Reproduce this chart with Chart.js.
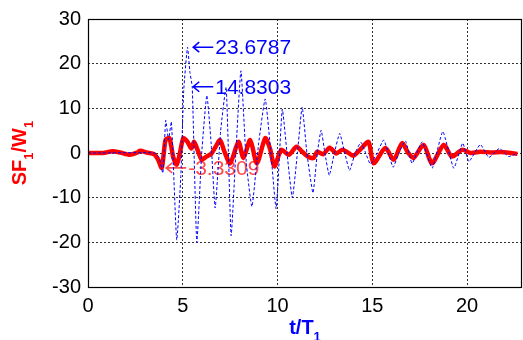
<!DOCTYPE html>
<html>
<head>
<meta charset="utf-8">
<script src="https://cdn.jsdelivr.net/npm/chart.js@4/dist/chart.umd.min.js"></script>
<style>
  html, body { margin: 0; padding: 0; background: #fff; }
  #wrap { width: 523px; height: 340px; }
</style>
</head>
<body>
<div id="wrap"><canvas id="c" width="523" height="340"></canvas></div>
<script>
// blue dotted series (t/T1, value)
const blueT = [0, 3.5, 3.75, 3.95, 4.1, 4.25, 4.4, 4.68, 4.9, 5.05, 5.25, 5.38, 5.5, 5.74, 6.0, 6.27, 6.5, 6.71, 7.0, 7.29, 7.55, 7.8, 8.07, 8.35, 8.65, 9.0, 9.35, 9.65, 9.93, 10.25, 10.5, 10.78, 11.05, 11.3, 11.55, 11.87, 12.1, 12.3, 12.5, 12.73, 13.0, 13.28, 13.55, 13.8, 14.1, 14.4, 14.65, 14.9, 15.25, 15.6, 15.85, 16.1, 16.4, 16.75, 17.1, 17.63, 18.16, 18.72, 19.3, 19.77, 20.1, 20.7, 21.15, 21.7, 22.2, 22.66];
const blueV = [0, 0, -1, -4.5, 7.3, 3, 7, -19.5, -5, 14, 23.68, 18, 14.83, -20, 0, 12.9, 2, -12.3, 5, 14.7, -18.5, 0, 18.4, -2, -12, 2, 12.1, 0, -12.5, 9.8, 0, -10, 0, 10.3, 0, -8.9, 0, 5.1, 0, -5, 0, 4.4, 0, -3.9, 0, 2.4, 0, -2.5, 0, 2.9, 0, -3.2, 0, 2.7, -2.3, 2.5, -3.4, 4.8, -3.4, 2.2, -1.9, 1.9, -1, 1, -0.8, 0];

// red thick series
const redT = [0, 0.8, 1.3, 1.7, 2.2, 2.6, 2.75, 3.1, 3.5, 3.7, 3.89, 4.0, 4.1, 4.3, 4.5, 4.68, 4.85, 5.03, 5.25, 5.45, 5.6, 5.8, 6.0, 6.25, 6.5, 6.75, 6.97, 7.2, 7.5, 7.94, 8.2, 8.56, 8.91, 9.35, 9.6, 9.84, 10.2, 10.6, 11.0, 11.3, 11.6, 11.9, 12.1, 12.4, 12.75, 13.1, 13.4, 13.65, 14.0, 14.35, 14.8, 15.07, 15.69, 16.13, 16.57, 16.9, 17.18, 17.71, 18.15, 18.77, 19.2, 19.74, 20.2, 20.7, 21.3, 21.8, 22.3, 22.66];
const redV = [0, 0, 0.4, 0.1, -0.4, 0.1, 0.5, 0.1, -0.3, -1.5, -3.33, 0, 3, 3.3, -1, -2.6, 0, 3.3, 2.5, 1.0, 2.5, 0.5, -1.5, -0.8, -0.2, 1.5, 2.9, 0.3, -2.3, 2.5, -1.1, 2.9, -2.3, 3.3, 1, -3, 0.7, -0.4, 1.4, 0.3, -0.8, -1.1, 0.3, -0.3, 1.2, -0.1, 0.7, 0.3, -0.6, 0.7, 2.5, -2.3, 1.1, -1.5, 2.2, 0, -1.1, 1.8, -2.3, 1.8, -0.8, 0.7, 0, 0.3, 0.1, 0.2, 0, -0.2];

const xTicks = [0, 5, 10, 15, 20];
const yTicks = [-30, -20, -10, 0, 10, 20, 30];

// text markers: [t, value, label, colour]
const notes = [
  [5.5, 23.6787, '23.6787', '#0000ff'],
  [5.5, 14.8303, '14.8303', '#0000ff'],
  [4.07, -3.3309, '-3.3309', '#ff4a4a']
];

const FONT = '"Liberation Sans", Arial, sans-serif';

function pts(t, v) {
  return t.map((x, i) => ({ x: x, y: v[i] }));
}

function drawNote(ctx, xs, ys, n) {
  const x0 = xs.getPixelForValue(n[0]);
  const y0 = ys.getPixelForValue(n[1]);
  ctx.strokeStyle = n[3];
  ctx.fillStyle = n[3];
  ctx.lineWidth = 1.6;
  ctx.setLineDash([]);
  ctx.beginPath();
  ctx.moveTo(x0 + 1, y0);
  ctx.lineTo(x0 + 21, y0);
  ctx.moveTo(x0 + 7, y0 - 5);
  ctx.lineTo(x0 + 1, y0);
  ctx.lineTo(x0 + 7, y0 + 5);
  ctx.stroke();
  ctx.font = '21px ' + FONT;
  ctx.textBaseline = 'middle';
  ctx.textAlign = 'left';
  ctx.fillText(n[2], x0 + 23, y0 + 1);
}

const overlay = {
  id: 'overlay',
  beforeDatasetsDraw(chart) {
    const ctx = chart.ctx;
    ctx.save();
    notes.filter(n => n[3] !== '#0000ff').forEach(n => drawNote(ctx, chart.scales.x, chart.scales.y, n));
    ctx.restore();
  },
  afterDatasetsDraw(chart) {
    const ctx = chart.ctx;
    const a = chart.chartArea;
    ctx.save();
    notes.filter(n => n[3] === '#0000ff').forEach(n => drawNote(ctx, chart.scales.x, chart.scales.y, n));
    // frame
    ctx.strokeStyle = '#000';
    ctx.lineWidth = 1.2;
    ctx.setLineDash([]);
    ctx.strokeRect(a.left + 0.5, a.top + 0.5, a.right - a.left - 1, a.bottom - a.top);
    ctx.restore();

    // axis titles with subscripts
    ctx.save();
    ctx.textBaseline = 'alphabetic';
    ctx.textAlign = 'left';
    ctx.fillStyle = '#0000ff';
    ctx.font = 'bold 20px ' + FONT;
    let w1 = ctx.measureText('t/T').width;
    ctx.font = 'bold 13px ' + FONT;
    let w2 = ctx.measureText('1').width;
    let cx = (a.left + a.right) / 2 - (w1 + w2) / 2;
    ctx.font = 'bold 20px ' + FONT;
    ctx.fillText('t/T', cx, 334);
    ctx.font = 'bold 13px ' + FONT;
    ctx.fillText('1', cx + w1, 341);

    ctx.translate(26, (a.top + a.bottom) / 2);
    ctx.rotate(-Math.PI / 2);
    ctx.fillStyle = '#ff0000';
    const parts = [['SF', 20, 0], ['1', 13, 7], ['/W', 20, 0], ['1', 13, 7]];
    let tot = 0;
    parts.forEach(p => { ctx.font = 'bold ' + p[1] + 'px ' + FONT; tot += ctx.measureText(p[0]).width; });
    let px = -tot / 2;
    parts.forEach(p => {
      ctx.font = 'bold ' + p[1] + 'px ' + FONT;
      ctx.fillText(p[0], px, p[2]);
      px += ctx.measureText(p[0]).width;
    });
    ctx.restore();
  }
};

new Chart(document.getElementById('c'), {
  type: 'line',
  data: {
    datasets: [
      {
        label: 'blue',
        data: pts(blueT, blueV),
        borderColor: '#0000ff',
        borderWidth: 1,
        borderDash: [3, 2],
        pointRadius: 0,
        tension: 0.15,
        fill: false
      },
      {
        label: 'red',
        data: pts(redT, redV),
        borderColor: '#ff0000',
        borderWidth: 4.5,
        pointRadius: 0,
        tension: 0.25,
        fill: false
      }
    ]
  },
  options: {
    responsive: false,
    animation: false,
    events: [],
    layout: { padding: { top: 16, right: 1, left: 0, bottom: 0 } },
    plugins: { legend: { display: false }, tooltip: { enabled: false } },
    scales: {
      x: {
        type: 'linear',
        min: 0,
        max: 22.9,
        afterFit(s) { s.height = 53; },
        afterBuildTicks(s) { s.ticks = xTicks.map(v => ({ value: v })); },
        grid: {
          color: '#333',
          lineWidth: 1,
          drawTicks: false
        },
        border: { display: false, dash: [2, 2] },
        ticks: {
          color: '#000',
          padding: 7,
          maxRotation: 0,
          autoSkip: false,
          font: { family: FONT, size: 20 }
        }
      },
      y: {
        min: -30,
        max: 30,
        afterFit(s) { s.width = 88; },
        afterBuildTicks(s) { s.ticks = yTicks.map(v => ({ value: v })); },
        grid: {
          color: '#333',
          lineWidth: 1,
          drawTicks: false
        },
        border: { display: false, dash: [2, 2] },
        ticks: {
          color: '#000',
          padding: 7,
          autoSkip: false,
          font: { family: FONT, size: 20 }
        }
      }
    }
  },
  plugins: [overlay]
});
</script>
</body>
</html>
